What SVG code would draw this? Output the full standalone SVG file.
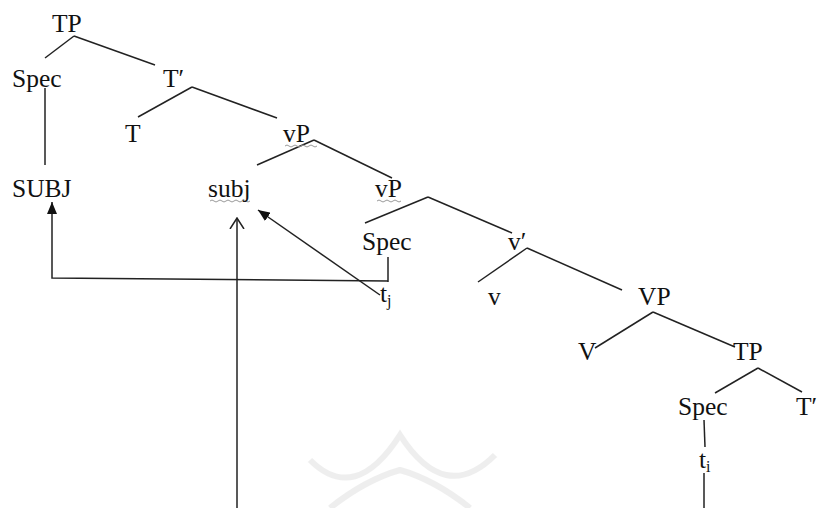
<svg xmlns="http://www.w3.org/2000/svg" width="819" height="508" viewBox="0 0 819 508">
<style>
text{font-family:"Liberation Serif","Times New Roman",serif;font-size:25.5px;fill:#111}
.sub{font-size:16px}
.e{stroke:#222;stroke-width:1.5;fill:none}
.sq{stroke:#9a9a9a;stroke-width:1;fill:none}
</style>
<defs>
<marker id="fa" viewBox="0 0 12 10" refX="12" refY="5" markerWidth="12" markerHeight="10" markerUnits="userSpaceOnUse" orient="auto">
<path d="M0,0 L12,5 L0,10 Z" fill="#111"/>
</marker>
<marker id="oa" viewBox="0 0 12 16" refX="11" refY="8" markerWidth="12" markerHeight="16" markerUnits="userSpaceOnUse" orient="auto">
<path d="M0,1 L11,8 L0,15" fill="none" stroke="#222" stroke-width="1.5"/>
</marker>
</defs>
<rect width="819" height="508" fill="#ffffff"/>
<g id="watermark" opacity="0.6">
<path d="M310,460 Q355,505 400,435 Q445,505 495,455" fill="none" stroke="#e4e4e4" stroke-width="6"/>
<path d="M330,508 Q365,480 400,470 Q435,480 470,508" fill="none" stroke="#e4e4e4" stroke-width="6"/>
</g>
<g id="connectors">
<line class="e" x1="74" y1="36" x2="45" y2="58"/>
<line class="e" x1="74" y1="36" x2="155" y2="65"/>
<line class="e" x1="192" y1="87" x2="138" y2="117"/>
<line class="e" x1="192" y1="87" x2="277" y2="118"/>
<line class="e" x1="314" y1="140" x2="257" y2="165"/>
<line class="e" x1="314" y1="140" x2="392" y2="178"/>
<line class="e" x1="428" y1="197" x2="365" y2="223"/>
<line class="e" x1="428" y1="197" x2="512" y2="233"/>
<line class="e" x1="527" y1="248" x2="478" y2="282"/>
<line class="e" x1="527" y1="248" x2="622" y2="290"/>
<line class="e" x1="653" y1="312" x2="595" y2="348"/>
<line class="e" x1="653" y1="312" x2="735" y2="347"/>
<line class="e" x1="758" y1="368" x2="715" y2="393"/>
<line class="e" x1="758" y1="368" x2="802" y2="392"/>
<line class="e" x1="45" y1="88" x2="45" y2="165"/>
<line class="e" x1="388" y1="257" x2="388" y2="282"/>
<polyline class="e" points="388,281 52,278 52,202" marker-end="url(#fa)"/>
<line class="e" x1="380" y1="295" x2="258" y2="210" marker-end="url(#fa)"/>
<line class="e" x1="237" y1="508" x2="237" y2="218" marker-end="url(#oa)"/>
<line class="e" x1="704" y1="420" x2="705" y2="447"/>
<line class="e" x1="704" y1="473" x2="704" y2="508"/>
</g>
<g id="squiggles">
<path class="sq" d="M285,146 q2,-2 4,0 t4,0 t4,0 t4,0 t4,0 t4,0 t4,0 t4,0"/>
<path class="sq" d="M210,201 q2,-2 4,0 t4,0 t4,0 t4,0 t4,0 t4,0 t4,0 t4,0 t4,0 t4,0"/>
<path class="sq" d="M377,201 q2,-2 4,0 t4,0 t4,0 t4,0 t4,0 t4,0"/>
</g>
<g id="n-TP"><text x="52" y="32">TP</text></g>
<g id="n-Spec1"><text x="12" y="87">Spec</text></g>
<g id="n-Tbar1"><text x="163" y="87">T′</text></g>
<g id="n-T"><text x="125" y="142">T</text></g>
<g id="n-vP1"><text x="283" y="142">vP</text></g>
<g id="n-SUBJ"><text x="12" y="197">SUBJ</text></g>
<g id="n-subj"><text x="208" y="197">subj</text></g>
<g id="n-vP2"><text x="375" y="197">vP</text></g>
<g id="n-Spec2"><text x="362" y="250">Spec</text></g>
<g id="n-vbar"><text x="508" y="250">v′</text></g>
<g id="n-tj"><text x="380" y="302">t<tspan class="sub" dy="4">j</tspan></text></g>
<g id="n-v"><text x="488" y="305">v</text></g>
<g id="n-VP"><text x="638" y="305">VP</text></g>
<g id="n-V"><text x="578" y="360">V</text></g>
<g id="n-TP2"><text x="733" y="360">TP</text></g>
<g id="n-Spec3"><text x="678" y="415">Spec</text></g>
<g id="n-Tbar2"><text x="796" y="415">T′</text></g>
<g id="n-ti"><text x="699" y="468">t<tspan class="sub" dy="4">i</tspan></text></g>
</svg>
